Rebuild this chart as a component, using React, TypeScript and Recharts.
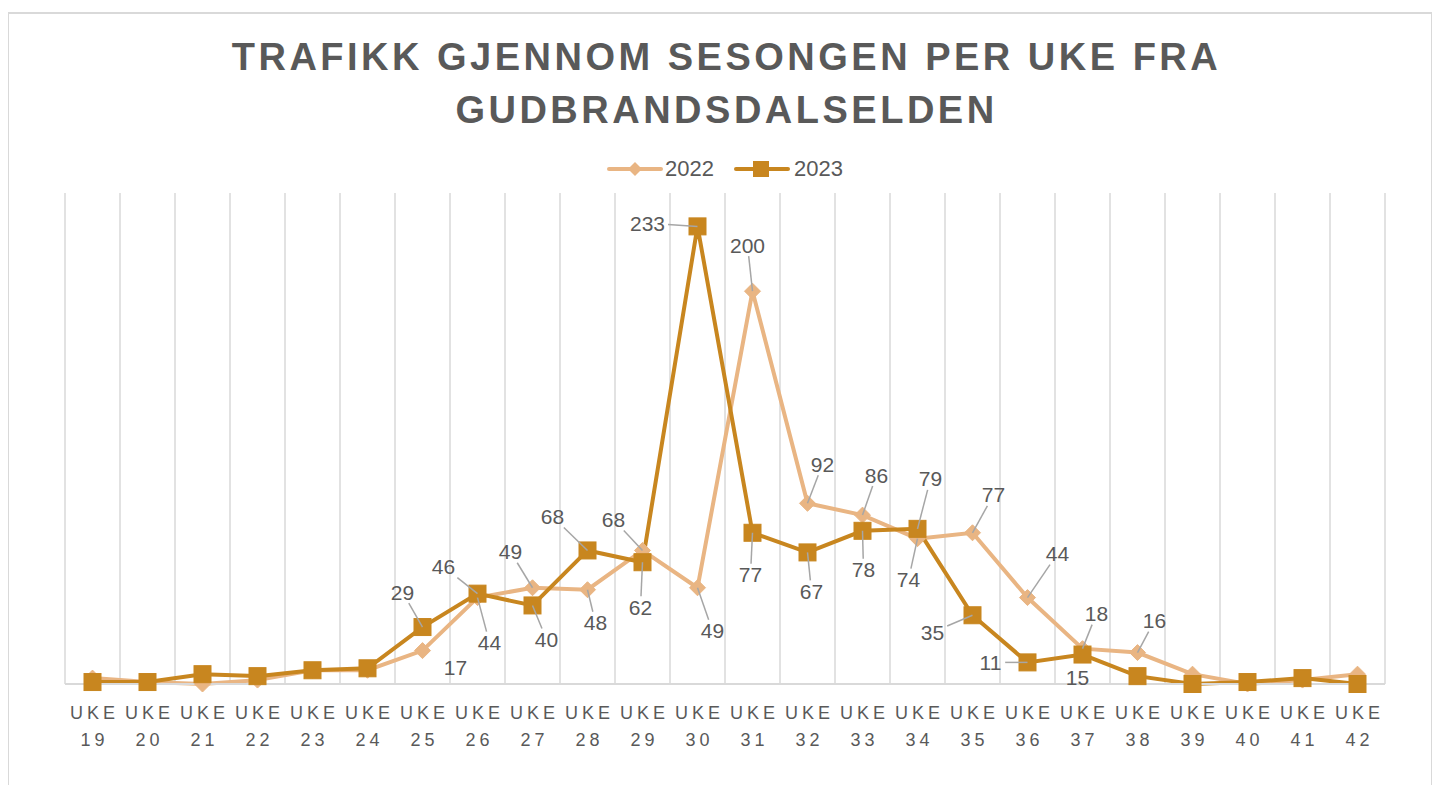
import React from 'react';
import { LineChart, Line, XAxis, YAxis, CartesianGrid, Legend, LabelList } from 'recharts';

const weeks = ['19','20','21','22','23','24','25','26','27','28','29','30','31','32','33','34','35','36','37','38','39','40','41','42'];
const traffic2022 = [3, 1, 0, 2, 7, 7, 17, 44, 49, 48, 68, 49, 200, 92, 86, 74, 77, 44, 18, 16, 5, 0, 2, 5];
const traffic2023 = [1, 1, 5, 4, 7, 8, 29, 46, 40, 68, 62, 233, 77, 67, 78, 79, 35, 11, 15, 4, 0, 1, 3, 0];

const title = ['TRAFIKK GJENNOM SESONGEN PER UKE FRA', 'GUDBRANDSDALSELDEN'];

// label placement (offset of label centre from its point), styling only
type Off = [number, number] | null;
const N6: Off[] = [null, null, null, null, null, null];
const labelOff2022: Off[] = [...N6, [33, 17], [12, 45], [-22, -36], [8, 33], [-29, -31], [15, 43], [-5, -46], [15, -39], [14, -40], [-9, 41], [21, -38], [30, -44], [14, -35], [17, -32], null, null, null, null];
const labelOff2023: Off[] = [...N6, [-20, -35], [-34, -27], [14, 34], [-35, -34], [-2, 45], [-50, -3], [-2, 42], [4, 39], [1, 39], [13, -50], [-40, 17], [-37, 0], [-5, 23], null, null, null, null, null];

const data = weeks.map((w, i) => ({ week: w, y2022: traffic2022[i], y2023: traffic2023[i] }));

const C22 = '#E9B583';
const C23 = '#C8861F';
const TXT = '#595959';
const FONT = '"Liberation Sans", Arial, sans-serif';

const Diamond = (props: any) => {
  const { cx, cy } = props;
  if (cx == null || cy == null) return null;
  const r = 8;
  return <path d={`M${cx},${cy - r}L${cx + r},${cy}L${cx},${cy + r}L${cx - r},${cy}Z`} fill={C22} stroke={C22} strokeWidth={1} />;
};
const Square = (props: any) => {
  const { cx, cy } = props;
  if (cx == null || cy == null) return null;
  const h = 8.5;
  return <rect x={cx - h} y={cy - h} width={2 * h} height={2 * h} fill={C23} stroke={C23} strokeWidth={1} />;
};

const makeLabel = (offs: Off[]) => (props: any) => {
  const { x, y, value, index } = props;
  const off = offs[index];
  if (!off || x == null || y == null) return null;
  const [dx, dy] = off;
  const tx = x + dx;
  const ty = y + dy;
  const len = String(value).length;
  const hw = len * 0.556 * 21 / 2 + 3;
  const hh = 11;
  const vx = -dx, vy = -dy;
  const s = Math.min(vx === 0 ? Infinity : hw / Math.abs(vx), vy === 0 ? Infinity : hh / Math.abs(vy));
  const sx = tx + vx * s;
  const sy = ty + vy * s;
  const rem = Math.hypot(x - sx, y - sy);
  return (
    <g>
      {rem > 21 && s < 1 ? (
        <line x1={sx} y1={sy} x2={x} y2={y} stroke="#A6A6A6" strokeWidth={1.5} />
      ) : null}
      <text x={tx} y={ty} textAnchor="middle" dominantBaseline="central" fill={TXT} fontSize={21} fontFamily={FONT}>
        {value}
      </text>
    </g>
  );
};

const WeekTick = (props: any) => {
  const { x, y, payload } = props;
  return (
    <g transform={`translate(${x},${y})`}>
      <text textAnchor="middle" fill={TXT} fontSize={18} letterSpacing={4} fontFamily={FONT}>
        <tspan x={2} y={35}>UKE</tspan>
        <tspan x={2} y={62}>{payload.value}</tspan>
      </text>
    </g>
  );
};

const LegendContent = () => (
  <div style={{ display: 'flex', alignItems: 'center', fontFamily: FONT, fontSize: 22, color: TXT, height: 26 }}>
    <svg width={56} height={20} style={{ display: 'block' }}>
      <line x1={2} y1={10} x2={54} y2={10} stroke={C22} strokeWidth={4} strokeLinecap="round" />
      <path d="M28,3L35,10L28,17L21,10Z" fill={C22} />
    </svg>
    <span style={{ marginLeft: 2 }}>2022</span>
    <svg width={56} height={20} style={{ display: 'block', marginLeft: 20 }}>
      <line x1={2} y1={10} x2={54} y2={10} stroke={C23} strokeWidth={4} strokeLinecap="round" />
      <rect x={19} y={2} width={16} height={16} fill={C23} />
    </svg>
    <span style={{ marginLeft: 4 }}>2023</span>
  </div>
);

const gridGen = ({ offset }: any) => {
  const n = weeks.length;
  const out: number[] = [];
  for (let i = 0; i <= n; i++) out.push(offset.left + (i * offset.width) / n);
  return out;
};

export default function App() {
  return (
    <div style={{ position: 'absolute', left: 8, top: 12, width: 1424, height: 790, borderTop: '2px solid #D9D9D9', borderLeft: '1px solid #D9D9D9', borderRight: '1px solid #D9D9D9', boxSizing: 'border-box', background: '#fff' }}>
      <div style={{ position: 'absolute', left: 0, top: 0, width: 1422, textAlign: 'center', fontFamily: FONT, fontWeight: 700, fontSize: 38, letterSpacing: 3.5, color: TXT, lineHeight: '53px', paddingTop: 17, paddingLeft: 13, boxSizing: 'border-box' }}>
        <div>{title[0]}</div>
        <div>{title[1]}</div>
      </div>
      <LineChart width={1422} height={770} data={data} margin={{ top: 179, right: 46, bottom: 40, left: 56 }}>
        <CartesianGrid horizontal={false} vertical stroke="#D9D9D9" strokeWidth={1.5} verticalCoordinatesGenerator={gridGen} />
        <XAxis dataKey="week" height={60} tickLine={false} tickSize={0} tickMargin={0} axisLine={{ stroke: '#D9D9D9', strokeWidth: 2 }} padding={{ left: 27.5, right: 27.5 }} tick={<WeekTick />} interval={0} />
        <YAxis hide domain={[0, 250]} />
        <Legend verticalAlign="middle" align="center" content={<LegendContent />} wrapperStyle={{ top: 142, left: 598, width: 300, height: 26 }} />
        <Line type="linear" dataKey="y2022" name="2022" stroke={C22} strokeWidth={4} dot={<Diamond />} activeDot={false} isAnimationActive={false}>
          <LabelList dataKey="y2022" content={makeLabel(labelOff2022)} />
        </Line>
        <Line type="linear" dataKey="y2023" name="2023" stroke={C23} strokeWidth={4} dot={<Square />} activeDot={false} isAnimationActive={false}>
          <LabelList dataKey="y2023" content={makeLabel(labelOff2023)} />
        </Line>
      </LineChart>
    </div>
  );
}
